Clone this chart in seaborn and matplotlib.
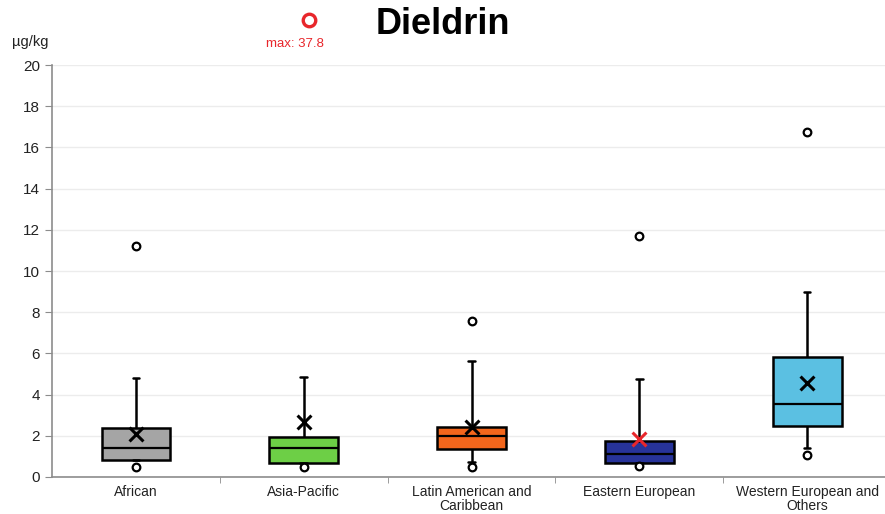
import numpy as np
import pandas as pd
import matplotlib
matplotlib.use("Agg")
import matplotlib.pyplot as plt
import seaborn as sns

# values (µg/kg)
categories = ["African", "Asia-Pacific", "Latin American and\nCaribbean",
              "Eastern European", "Western European and\nOthers"]
whisker_low = [0.81, 0.66, 0.72, 0.68, 1.39]
q1 = [0.81, 0.66, 1.37, 0.68, 2.48]
median = [1.39, 1.42, 2.00, 1.10, 3.56]
q3 = [2.39, 1.93, 2.44, 1.76, 5.81]
whisker_high = [4.80, 4.85, 5.63, 4.76, 8.98]
means = [2.07, 2.68, 2.44, 1.84, 4.58]
outlier_group = ["African", "African", "Asia-Pacific", "Latin American and\nCaribbean",
                 "Latin American and\nCaribbean", "Eastern European", "Eastern European",
                 "Western European and\nOthers", "Western European and\nOthers"]
outlier_value = [0.50, 11.22, 0.50, 0.50, 7.58, 0.53, 11.70, 1.07, 16.75]
max_value = 37.8  # Asia-Pacific, off scale

box_colors = ["#a5a5a5", "#6dcf46", "#f3661c", "#27339a", "#5bc0e2"]
mean_colors = ["black", "black", "black", "#e8262b", "black"]

sns.set_style("white")
plt.rcParams["font.family"] = ["Liberation Sans", "DejaVu Sans"]
plt.rcParams["text.color"] = "black"
plt.rcParams["xtick.color"] = "#222222"
plt.rcParams["ytick.color"] = "#222222"

# five-number table per region
rows = []
for i, cat in enumerate(categories):
    for v in (whisker_low[i], q1[i], median[i], q3[i], whisker_high[i]):
        rows.append({"region": cat, "value": v})
df = pd.DataFrame(rows)

fig = plt.figure(figsize=(8.85, 5.14), dpi=100)
ax = fig.add_axes([0.0588, 0.072, 0.948, 0.8015])

sns.boxplot(data=df, x="region", y="value", hue="region", order=categories,
            palette=box_colors, saturation=1, whis=(0, 100), width=0.41, legend=False,
            linecolor="black", linewidth=1.8, showfliers=False, capwidths=0.04,
            medianprops={"linewidth": 1.6}, ax=ax)

sns.stripplot(x=outlier_group, y=outlier_value, order=categories, jitter=False,
              color="white", edgecolor="black", linewidth=1.6, size=5.5,
              marker="o", ax=ax, zorder=5)

sns.stripplot(x=categories, y=means, hue=categories, order=categories,
              palette=mean_colors, jitter=False, marker="x", size=10,
              linewidth=2.2, legend=False, ax=ax, zorder=6)

ax.set_ylim(0, 20)
ax.set_xlim(-0.5, len(categories) - 0.5)
ax.set_yticks(np.arange(0, 21, 2))
ax.yaxis.grid(True, color="#ececec", linewidth=1)
ax.set_axisbelow(True)
ax.set_xlabel("")
ax.set_ylabel("")
for side in ["top", "right"]:
    ax.spines[side].set_visible(False)
for side in ["left", "bottom"]:
    ax.spines[side].set_color("#8c8c8c")
    ax.spines[side].set_linewidth(1.2)
ax.tick_params(axis="y", length=5, color="#8c8c8c", labelsize=11, left=True,
               labelcolor="#222222")
ax.tick_params(axis="x", length=0, labelsize=10, pad=6, labelcolor="#222222")
for lbl in ax.get_xticklabels():
    lbl.set_linespacing(1.0)
ax.set_xticks(np.arange(len(categories) - 1) + 0.5, minor=True)
ax.tick_params(axis="x", which="minor", length=4, color="#8c8c8c", bottom=True)

# off-scale maximum for Asia-Pacific
tr = ax.get_xaxis_transform()
ax.plot([1.03], [1.11], marker="o", markersize=9, markerfacecolor="none",
        markeredgecolor="#e8262b", markeredgewidth=2.4, transform=tr, clip_on=False)
ax.text(0.95, 1.05, f"max: {max_value}", color="#e8262b", fontsize=9.5,
        ha="center", va="center", transform=tr)

fig.text(0.5, 0.952, "Dieldrin", fontsize=26, fontweight="bold", ha="center",
         va="center", color="black")
fig.text(0.034, 0.918, "µg/kg", fontsize=10.5, ha="center", va="center", color="#222222")

fig.savefig("out.png", dpi=100)
